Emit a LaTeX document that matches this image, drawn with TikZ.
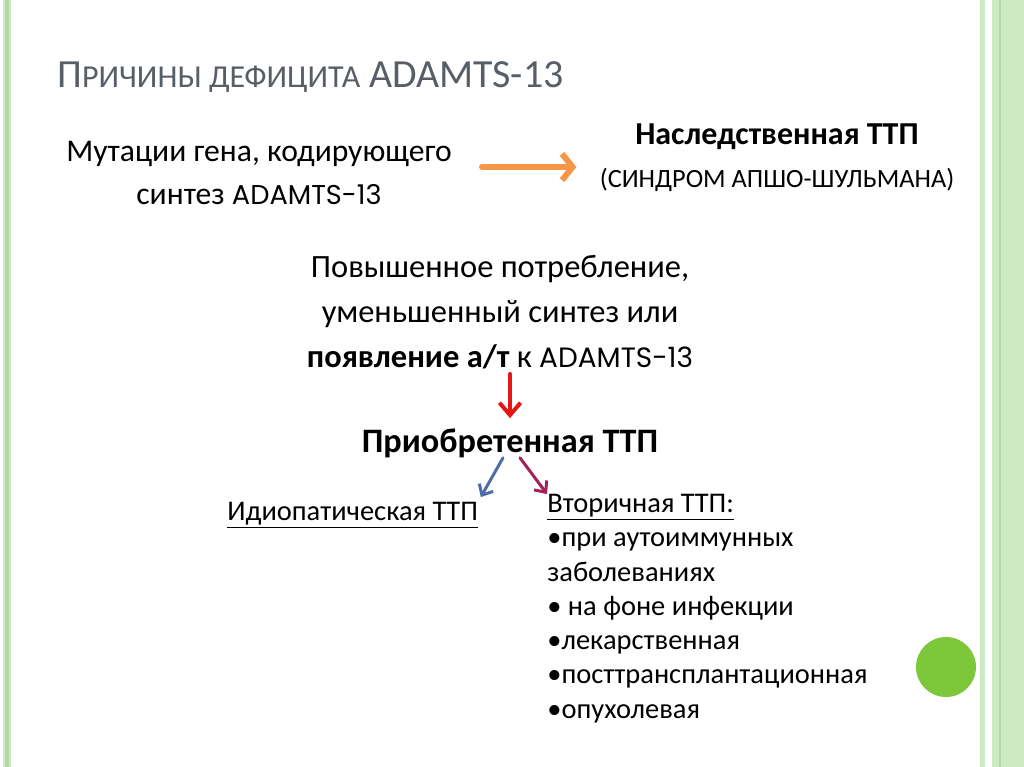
\documentclass[tikz,border=0pt]{standalone}
\usepackage{fontspec}
\setmainfont{Carlito}
\newfontfamily\gothicfont[Scale=0.86]{Poppins}
\usetikzlibrary{positioning,arrows.meta,calc}
\definecolor{titlegray}{RGB}{88,94,102}
\definecolor{arrorange}{RGB}{247,150,70}
\definecolor{arrred}{RGB}{228,22,22}
\definecolor{arrblue}{RGB}{79,108,168}
\definecolor{arrplum}{RGB}{162,32,92}
\definecolor{stripe}{RGB}{204,234,196}
\definecolor{stripedark}{RGB}{176,218,166}
\definecolor{dotgreen}{RGB}{125,200,58}
\newcommand\adamts{{\gothicfont ADAMTS-13}}

\begin{document}
\begin{tikzpicture}[x=0.02cm, y=-0.02cm,
    body/.style={font=\fontsize{18}{24.4}\selectfont, inner sep=0pt, align=center},
    listtext/.style={font=\fontsize{16.2}{19.5}\selectfont, inner sep=0pt, align=left},
    conn/.style={line width=#1, line cap=round}]
  % frame and stripes
  \fill[white] (0,0) rectangle (1024,767);
  \useasboundingbox (0,0) rectangle (1024,767);
  \fill[stripe] (3,0) rectangle (11,767);
  \fill[stripedark] (5,0) rectangle (9,767);
  \fill[stripe] (980,0) rectangle (985,767);
  \fill[stripe] (992,0) rectangle (1024,767);
  \fill[stripedark] (999,0) rectangle (1001,767);
  \fill[dotgreen] (946,667) circle (30);

  % title
  \node[anchor=base west, inner sep=0pt, text=titlegray] (title) at (57,88)
    {{\fontsize{22.7}{26}\selectfont П}{\fontsize{18.2}{26}\selectfont РИЧИНЫ ДЕФИЦИТА}\fontsize{22.7}{26}\selectfont{} ADAMTS-13};

  % hereditary branch
  \node[body] (mut) at (259,173) {Мутации гена, кодирующего\\синтез \adamts};
  \node[body, font=\fontsize{18.2}{24.4}\selectfont] (her) at (777,158)
    {{\bfseries Наследственная ТТП}\\{\fontsize{15}{24.4}\selectfont(СИНДРОМ АПШО-ШУЛЬМАНА)}};
  \draw[conn=3.4pt, arrorange, -{Straight Barb[length=6pt,width=15pt]},
    shorten <=0.6cm, shorten >=0.46cm]
    ([yshift=0.12cm]mut.east) -- ([yshift=0.12cm]mut.east -| her.west);

  % acquired branch
  \node[body, font=\fontsize{18.5}{25.5}\selectfont] (mid) at (500,312)
    {Повышенное потребление,\\уменьшенный синтез или\\{\bfseries появление а/т} к \adamts};
  \node[body, font=\bfseries\fontsize{19.5}{24.4}\selectfont] (acq) at (510,443) {Приобретенная ТТП};
  \draw[conn=2.3pt, arrred, -{Straight Barb[length=7pt,width=12pt]},
    shorten <=0.1cm, shorten >=0.2cm] (acq.north |- mid.south) -- (acq.north);

  \node[listtext, anchor=west] (idio) at (227,515) {\underline{Идиопатическая ТТП}};
  \node[listtext, anchor=north west] (sec) at (547,494)
    {\underline{Вторичная ТТП:}\\
     •при аутоиммунных\\
     заболеваниях\\
     • на фоне инфекции\\
     •лекарственная\\
     •посттрансплантационная\\
     •опухолевая};
  \draw[conn=1.7pt, arrblue, -{Straight Barb[length=5pt,width=9pt]}, shorten >=0.1cm]
    ([xshift=-0.14cm]acq.south) -- (idio.north east);
  \draw[conn=1.7pt, arrplum, -{Straight Barb[length=5pt,width=9pt]}]
    ([xshift=0.2cm]acq.south) -- (sec.north west);
\end{tikzpicture}
\end{document}
